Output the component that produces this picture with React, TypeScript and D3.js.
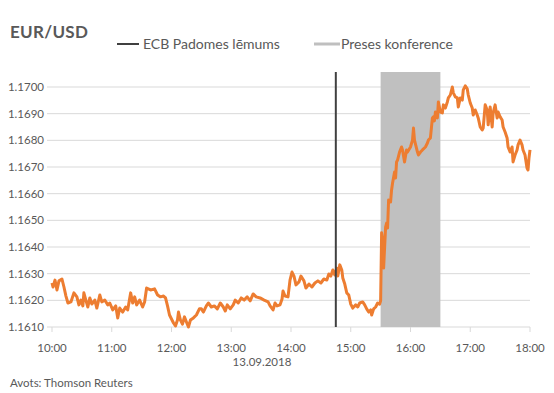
import React from "react";
import * as d3 from "d3";

// minutes after 10:00 and EUR/USD rate, 13.09.2018
const minutes = [0,1,3,5,7,10,12,14,16,19,22,25,27,29,31,32,34,36,38,40,43,45,48,50,53,56,58,61,64,66,68,71,74,76,79,81,83,85,88,91,93,95,99,103,106,109,112,114,116,118,122,124,126,127,129,131,133,135,137,139,142,145,148,150,152,155,157,160,163,166,169,172,174,176,179,182,184,187,190,193,196,199,202,205,209,213,217,219,222,224,226,229,231,232,234,237,239,241,243,245,248,250,253,255,258,261,264,267,270,273,276,278,280,282,284,286,287,289,291,292,294,296,298,300,302,305,307,309,312,314,316,318,320,321,323,325,327,329,330,331,332,333,335,336,337,338,340,341,342,344,345,346,347,349,351,352,354,356,357,360,362,363,364,367,368,370,372,375,377,378,380,382,383,384,385,387,388,390,392,393,395,397,398,400,402,403,405,407,408,410,412,413,415,417,418,420,422,423,425,427,428,430,432,433,435,437,438,440,442,443,445,447,448,450,452,453,455,457,458,460,462,463,465,467,468,470,472,473,475,477,478,479,480];
const rates = [1.16265,1.1625,1.16276,1.16239,1.16273,1.1628,1.1625,1.16216,1.1619,1.16194,1.16228,1.16213,1.16183,1.16201,1.16179,1.16228,1.16201,1.16175,1.16209,1.16186,1.16201,1.16171,1.1622,1.16194,1.16201,1.16183,1.1619,1.16164,1.16179,1.16134,1.16171,1.16156,1.16175,1.16164,1.16228,1.1619,1.16213,1.16183,1.16201,1.16175,1.16194,1.16246,1.16239,1.16243,1.1622,1.16213,1.16216,1.16209,1.16179,1.16145,1.16115,1.16104,1.16126,1.16156,1.16126,1.16111,1.16138,1.16119,1.161,1.16126,1.16134,1.16145,1.16168,1.16168,1.16156,1.16179,1.1619,1.16175,1.16179,1.16168,1.1619,1.16175,1.1616,1.16183,1.16168,1.16183,1.16201,1.1619,1.16209,1.16201,1.16213,1.16198,1.16224,1.16213,1.16209,1.16201,1.16194,1.16179,1.16164,1.1619,1.16179,1.16183,1.16205,1.16235,1.16216,1.16213,1.16276,1.16306,1.16291,1.16258,1.16269,1.16291,1.16273,1.16246,1.16261,1.1625,1.16265,1.16273,1.16265,1.1628,1.16276,1.16299,1.16291,1.16314,1.16295,1.16321,1.16291,1.16333,1.16314,1.16284,1.16261,1.16228,1.1622,1.16186,1.16171,1.16183,1.16175,1.1619,1.16194,1.16183,1.16168,1.16156,1.16164,1.16145,1.16168,1.16175,1.1619,1.16186,1.16198,1.16453,1.16426,1.16321,1.16475,1.1649,1.16471,1.16576,1.16569,1.16614,1.1664,1.16681,1.16659,1.16719,1.16726,1.16756,1.16775,1.16764,1.16719,1.16764,1.16756,1.16775,1.16801,1.16846,1.16801,1.16756,1.16745,1.16756,1.16764,1.16775,1.1679,1.16801,1.16809,1.16884,1.16888,1.16873,1.16906,1.16884,1.16944,1.16906,1.16903,1.16933,1.16921,1.16944,1.16959,1.1697,1.17,1.16978,1.16963,1.16959,1.16925,1.16959,1.16951,1.16989,1.17004,1.16993,1.1697,1.1694,1.16921,1.16895,1.16914,1.16895,1.16884,1.1685,1.16839,1.16846,1.16933,1.16914,1.16858,1.16925,1.1685,1.16903,1.16933,1.16884,1.16906,1.16888,1.16876,1.1685,1.16831,1.16809,1.16775,1.16756,1.16775,1.16719,1.16745,1.16764,1.16783,1.16801,1.16783,1.16764,1.16745,1.16696,1.16689,1.16734,1.16764];

const hourLabels = ["10:00","11:00","12:00","13:00","14:00","15:00","16:00","17:00","18:00"];
const yTicks = [1.161,1.162,1.163,1.164,1.165,1.166,1.167,1.168,1.169,1.17];
const ecbDecision = 285; // 14:45
const pressConference = [330, 390]; // 15:30 - 16:30
const title = "EUR/USD";
const legendLabels = ["ECB Padomes lēmums", "Preses konference"];
const dateLabel = "13.09.2018";
const source = "Avots: Thomson Reuters";

export default function App() {
  const W = 554, H = 393;
  const left = 52, right = 530, top = 72, bottom = 327;
  const x = d3.scaleLinear().domain([0, 480]).range([left, right]);
  const y = d3.scaleLinear().domain([1.161, 1.17]).range([bottom, 87]);
  const pts = minutes.map((m, i) => [m, rates[i]] as [number, number]);
  const line = d3.line<[number, number]>().x(d => x(d[0])).y(d => y(d[1]));
  const font = "Lato, 'Open Sans', sans-serif";
  const textCol = "#595959";
  return (
    <svg width={W} height={H} style={{ position: "absolute", left: 0, top: 0, background: "#fff" }} fontFamily={font}>
      <rect x={0} y={0} width={W} height={H} fill="#fff" />
      <text x={10} y={38} fontSize={17} fontWeight="bold" fill={textCol} letterSpacing={0.3}>{title}</text>
      <line x1={117} x2={139} y1={44} y2={44} stroke="#404040" strokeWidth={2} />
      <text x={143} y={49} fontSize={14} fill={textCol}>{legendLabels[0]}</text>
      <line x1={314} x2={340} y1={44} y2={44} stroke="#bfbfbf" strokeWidth={3} />
      <text x={341} y={49} fontSize={14} fill={textCol}>{legendLabels[1]}</text>
      {yTicks.map(t => (
        <g key={t}>
          <line x1={left} x2={right} y1={y(t)} y2={y(t)} stroke="#d9d9d9" strokeWidth={1} />
          <line x1={left - 5} x2={left} y1={y(t)} y2={y(t)} stroke="#d9d9d9" strokeWidth={1} />
          <text x={44} y={y(t)} dy="0.35em" textAnchor="end" fontSize={11.5} fill={textCol}>{t.toFixed(4)}</text>
        </g>
      ))}
      {hourLabels.map((h, i) => (
        <g key={h}>
          <line x1={x(i * 60)} x2={x(i * 60)} y1={bottom} y2={bottom + 5} stroke="#d9d9d9" strokeWidth={1} />
          <text x={x(i * 60)} y={348} dy="0.35em" textAnchor="middle" fontSize={11.5} fill={textCol}>{h}</text>
        </g>
      ))}
      <text x={262} y={362} dy="0.35em" textAnchor="middle" fontSize={11.5} fill={textCol}>{dateLabel}</text>
      <rect x={x(pressConference[0])} y={top} width={x(pressConference[1]) - x(pressConference[0])} height={bottom - top} fill="#c0c0c0" />
      <path d={line(pts) || ""} fill="none" stroke="#ED7D31" strokeWidth={3} strokeLinejoin="round" />
      <line x1={x(ecbDecision)} x2={x(ecbDecision)} y1={top} y2={bottom} stroke="#404040" strokeWidth={2} />
      <text x={10} y={383} dy="0.35em" fontSize={11.5} fill={textCol}>{source}</text>
    </svg>
  );
}
